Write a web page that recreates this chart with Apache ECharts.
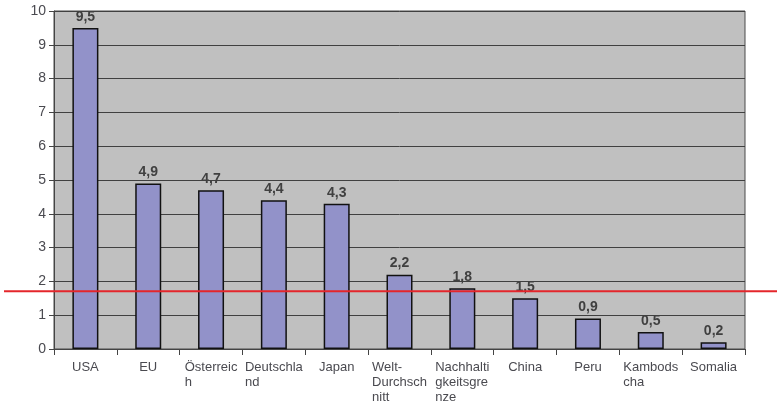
<!DOCTYPE html>
<html>
<head>
<meta charset="utf-8">
<script src="https://cdn.jsdelivr.net/npm/echarts@6/dist/echarts.min.js"></script>
<style>
  html, body { margin: 0; padding: 0; background: #fff; }
  #chart { width: 778px; height: 406px; }
</style>
</head>
<body>
<div id="chart"></div>
<script>
// Kategorien (so umbrochen wie im Bild)
var categories = ['USA', 'EU', 'Österreic\nh', 'Deutschla\nnd', 'Japan', 'Welt-\nDurchsch\nnitt',
  'Nachhalti\ngkeitsgre\nnze', 'China', 'Peru', 'Kambods\ncha', 'Somalia'];
// Werte
var values = [9.5, 4.9, 4.7, 4.4, 4.3, 2.2, 1.8, 1.5, 0.9, 0.5, 0.2];
// rote Grenzlinie
var limitValue = [1.71];
var yTicks = [0, 10, 1]; // min, max, Schritt

var textFont = '"Liberation Sans", Arial, sans-serif';

var chart = echarts.init(document.getElementById('chart'));
var option = {
  animation: false,
  grid: [
    { left: 54, right: 33, top: 11, bottom: 57, show: true, backgroundColor: '#c0c0c0', borderColor: '#4a4a4a', borderWidth: 1 },
    // zweites Raster nur für die rote Linie über die ganze Breite
    { left: 4, right: 1, top: 11, bottom: 57 }
  ],
  xAxis: [
    {
      type: 'category',
      gridIndex: 0,
      data: categories,
      axisLine: { lineStyle: { color: '#444', width: 1 } },
      axisTick: { show: true, length: 6, lineStyle: { color: '#444' } },
      axisLabel: {
        interval: 0,
        margin: 11,
        color: '#4a4a50',
        fontFamily: textFont,
        fontSize: 13,
        lineHeight: 15,
        formatter: function (v) { return '{a|' + v + '}'; },
        rich: { a: { align: 'left', fontFamily: textFont, fontSize: 13, lineHeight: 15, color: '#4a4a50' } }
      }
    },
    { type: 'value', gridIndex: 1, min: 0, max: 1, show: false }
  ],
  yAxis: [
    {
      type: 'value',
      gridIndex: 0,
      min: yTicks[0],
      max: yTicks[1],
      interval: yTicks[2],
      axisLine: { show: true, lineStyle: { color: '#444' } },
      axisTick: { show: true, length: 5, lineStyle: { color: '#444' } },
      splitLine: { lineStyle: { color: '#404040', width: 1 } },
      axisLabel: { color: '#4a4a50', fontFamily: textFont, fontSize: 14, margin: 8 }
    },
    { type: 'value', gridIndex: 1, min: yTicks[0], max: yTicks[1], show: false }
  ],
  series: [
    {
      type: 'bar',
      xAxisIndex: 0,
      yAxisIndex: 0,
      data: values,
      barWidth: 26,
      itemStyle: { color: '#9292c9', borderColor: '#111', borderWidth: 1.5 },
      label: {
        show: true,
        position: 'top',
        distance: 4,
        color: '#404040',
        fontWeight: 'bold',
        fontFamily: textFont,
        fontSize: 14,
        formatter: function (p) { return String(p.value).replace('.', ','); }
      }
    },
    {
      type: 'line',
      xAxisIndex: 1,
      yAxisIndex: 1,
      data: [[0, limitValue[0]], [1, limitValue[0]]],
      symbol: 'none',
      z: 10,
      lineStyle: { color: '#e4262b', width: 2 }
    }
  ]
};
option && chart.setOption(option);
</script>
</body>
</html>
